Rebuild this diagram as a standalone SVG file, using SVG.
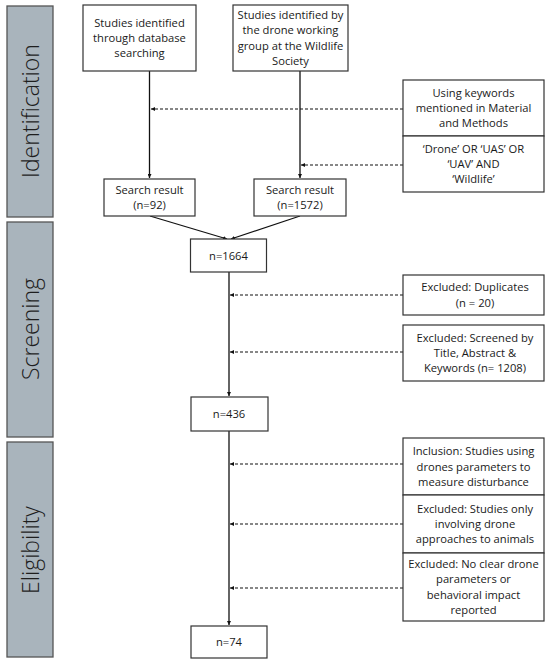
<svg xmlns="http://www.w3.org/2000/svg" width="550" height="663" viewBox="0 0 550 663">
<defs>
<style>
.side{fill:#a9b4bc;stroke:#555;stroke-width:1.3}
.sidet{font-family:"Open Sans","DejaVu Sans",sans-serif;font-weight:300;font-size:23px;fill:#1e1e1e;text-anchor:middle}
.box{fill:#fff;stroke:#333;stroke-width:1.2}
.t{font-family:"Open Sans","DejaVu Sans",sans-serif;font-size:11.2px;fill:#1a1a1a;text-anchor:middle}
.ln{fill:none;stroke:#111;stroke-width:1.3}
.dl{fill:none;stroke:#111;stroke-width:1.2;stroke-dasharray:3 2}
</style>
<marker id="ah" viewBox="0 0 6 6" refX="6" refY="3" markerWidth="4" markerHeight="4" orient="auto" markerUnits="userSpaceOnUse">
<path d="M0,0 L6,3 L0,6 z" fill="#111"/>
</marker>
</defs>
<rect width="550" height="663" fill="#fff"/>

<g id="phase-identification">
<rect class="side" x="7" y="6" width="46" height="211"/>
<text class="sidet" transform="translate(38.5,111) rotate(-90)">Identification</text>
</g>
<g id="phase-screening">
<rect class="side" x="7" y="222" width="46" height="215"/>
<text class="sidet" transform="translate(38.5,329) rotate(-90)">Screening</text>
</g>
<g id="phase-eligibility">
<rect class="side" x="7" y="442" width="46" height="215"/>
<text class="sidet" transform="translate(38.5,550) rotate(-90)">Eligibility</text>
</g>

<g id="connectors">
<path class="ln" d="M149.5,71 V178" marker-end="url(#ah)"/>
<path class="ln" d="M300,71 V178" marker-end="url(#ah)"/>
<path class="dl" d="M403,109 H151" marker-end="url(#ah)"/>
<path class="dl" d="M403,165 H301" marker-end="url(#ah)"/>
<path class="ln" d="M150,216 L227,239" marker-end="url(#ah)"/>
<path class="ln" d="M300,216 L231,239" marker-end="url(#ah)"/>
<path class="ln" d="M229,272 V396" marker-end="url(#ah)"/>
<path class="dl" d="M403,295 H230" marker-end="url(#ah)"/>
<path class="dl" d="M403,352 H230" marker-end="url(#ah)"/>
<path class="ln" d="M229,431 V625" marker-end="url(#ah)"/>
<path class="dl" d="M403,464 H230" marker-end="url(#ah)"/>
<path class="dl" d="M403,524 H230" marker-end="url(#ah)"/>
<path class="dl" d="M403,588 H230" marker-end="url(#ah)"/>
</g>

<g id="n-database">
<rect class="box" x="83" y="5" width="113" height="66"/>
<text class="t" x="139.5" y="26.7">Studies identified</text>
<text class="t" x="139.5" y="42">through database</text>
<text class="t" x="139.5" y="57.3">searching</text>
</g>
<g id="n-wildlife">
<rect class="box" x="233" y="5" width="115" height="66"/>
<text class="t" x="290.5" y="19">Studies identified by</text>
<text class="t" x="290.5" y="34.3">the drone working</text>
<text class="t" x="290.5" y="49.6">group at the Wildlife</text>
<text class="t" x="290.5" y="64.9">Society</text>
</g>
<g id="n-keywords">
<rect class="box" x="403" y="80" width="141" height="56"/>
<text class="t" x="473.5" y="96.7">Using keywords</text>
<text class="t" x="473.5" y="112">mentioned in Material</text>
<text class="t" x="473.5" y="127.3">and Methods</text>
</g>
<g id="n-terms">
<rect class="box" x="403" y="136" width="141" height="56"/>
<text class="t" x="473.5" y="152.7">‘Drone’ OR ‘UAS’ OR</text>
<text class="t" x="473.5" y="168">‘UAV’ AND</text>
<text class="t" x="473.5" y="183.3">‘Wildlife’</text>
</g>
<g id="n-search1">
<rect class="box" x="104" y="179" width="91" height="37"/>
<text class="t" x="149.5" y="193.9">Search result</text>
<text class="t" x="149.5" y="209.2">(n=92)</text>
</g>
<g id="n-search2">
<rect class="box" x="254" y="179" width="92" height="37"/>
<text class="t" x="300" y="193.9">Search result</text>
<text class="t" x="300" y="209.2">(n=1572)</text>
</g>
<g id="n-1664">
<rect class="box" x="190.5" y="239" width="76" height="33"/>
<text class="t" x="228.5" y="259.5">n=1664</text>
</g>
<g id="n-duplicates">
<rect class="box" x="403" y="275" width="141" height="40"/>
<text class="t" x="475" y="291.3">Excluded: Duplicates</text>
<text class="t" x="475" y="306.6">(n = 20)</text>
</g>
<g id="n-screened">
<rect class="box" x="403" y="325" width="141" height="56"/>
<text class="t" x="475" y="341.7">Excluded: Screened by</text>
<text class="t" x="475" y="357">Title, Abstract &amp;</text>
<text class="t" x="475" y="372.3">Keywords (n= 1208)</text>
</g>
<g id="n-436">
<rect class="box" x="191" y="397" width="77" height="34"/>
<text class="t" x="229" y="418">n=436</text>
</g>
<g id="n-inclusion">
<rect class="box" x="403" y="438" width="141" height="57"/>
<text class="t" x="473.5" y="455.2">Inclusion: Studies using</text>
<text class="t" x="473.5" y="470.5">drones parameters to</text>
<text class="t" x="473.5" y="485.8">measure disturbance</text>
</g>
<g id="n-approaches">
<rect class="box" x="403" y="495" width="141" height="58"/>
<text class="t" x="475" y="512.7">Excluded: Studies only</text>
<text class="t" x="475" y="528">involving drone</text>
<text class="t" x="475" y="543.3">approaches to animals</text>
</g>
<g id="n-noclear">
<rect class="box" x="403" y="553" width="141" height="68"/>
<text class="t" x="473.5" y="568">Excluded: No clear drone</text>
<text class="t" x="473.5" y="583.3">parameters or</text>
<text class="t" x="473.5" y="598.6">behavioral impact</text>
<text class="t" x="473.5" y="613.9">reported</text>
</g>
<g id="n-74">
<rect class="box" x="191" y="626" width="76" height="32"/>
<text class="t" x="229" y="645.5">n=74</text>
</g>
</svg>
